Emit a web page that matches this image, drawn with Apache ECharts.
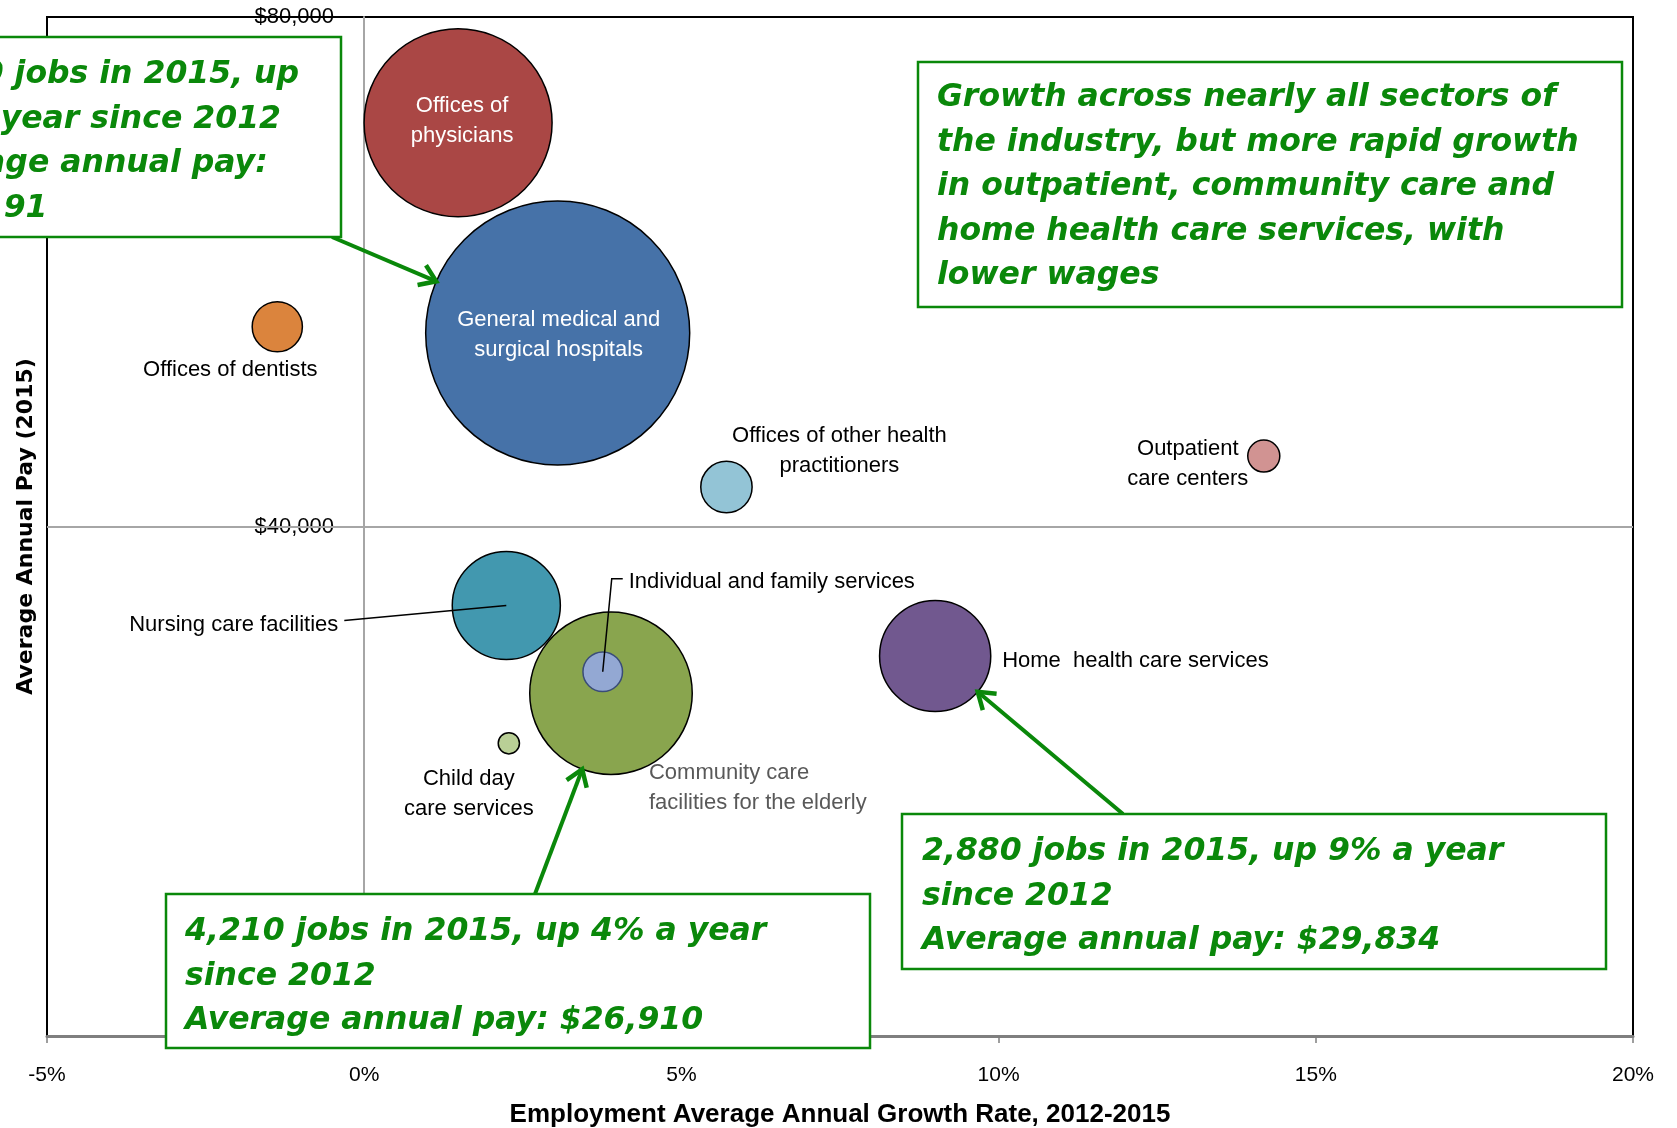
<!DOCTYPE html>
<html>
<head>
<meta charset="utf-8">
<script src="https://cdn.jsdelivr.net/npm/echarts@6/dist/echarts.min.js"></script>
<style>
  html, body { margin: 0; padding: 0; background: #fff; }
  #main { width: 1677px; height: 1128px; }
</style>
</head>
<body>
<div id="main"></div>
<script>
// sectors
const sectors = [
  'Offices of physicians',
  'General medical and surgical hospitals',
  'Offices of dentists',
  'Offices of other health practitioners',
  'Outpatient care centers',
  'Nursing care facilities',
  'Child day care services',
  'Community care facilities for the elderly',
  'Individual and family services',
  'Home health care services'
]
const labelTexts = [
  'Offices of\nphysicians',
  'General medical and\nsurgical hospitals',
  'Offices of dentists',
  'Offices of other health\npractitioners',
  'Outpatient\ncare centers',
  'Nursing care facilities',
  'Child day\ncare services',
  'Community care\nfacilities for the elderly',
  'Individual and family services',
  'Home  health care services'
]
const growthRate = [1.48, 3.05, -1.37, 5.71, 14.18, 2.24, 2.28, 3.89, 3.76, 9.0]
const annualPay = [71700, 55191, 55680, 43100, 45530, 33800, 22980, 26910, 28600, 29834]
const jobs2015 = [4870, 6840, 1300, 1330, 830, 2800, 550, 4210, 1025, 2880]
const xMin = -5, xMax = 20, xStep = 5
const yMin = 0, yMax = 80000, yStep = 40000

const colors = ['#AA4745', '#4672A8', '#DB843D', '#93C4D6', '#D19392', '#4298AF', '#B9CF96', '#89A54E', '#93A8D3', '#71588F']
const borders = ['#000', '#000', '#000', '#000', '#000', '#000', '#000', '#000', '#3A4C78', '#000']
// label placement relative to bubble centre (px)
const labelLayout = [
  { offset: [4, -2], align: 'center', color: '#fff' },
  { offset: [1, 2], align: 'center', color: '#fff' },
  { offset: [-47, 43], align: 'center' },
  { offset: [113, -36], align: 'center' },
  { offset: [-76, 8], align: 'center' },
  { offset: [-168, 19], align: 'right' },
  { offset: [-40, 51], align: 'center' },
  { offset: [38, 95], align: 'left', color: '#595959' },
  { offset: [26, -90], align: 'left' },
  { offset: [67, 5], align: 'left' }
]
const bubbleScale = 0.0386 // diameter px per job
const green = '#0A880A'
const labelFont = "'Liberation Sans', Arial, sans-serif"
const noteFont = "italic bold 31.5px 'DejaVu Sans', sans-serif"

const chart = echarts.init(document.getElementById('main'))

const data = sectors.map((name, i) => ({
  name: name,
  value: [growthRate[i], annualPay[i], jobs2015[i]],
  itemStyle: { color: colors[i], borderColor: borders[i], borderWidth: 1.5, opacity: 1 },
  label: {
    offset: labelLayout[i].offset,
    align: labelLayout[i].align,
    color: labelLayout[i].color || '#000'
  }
}))

chart.setOption({
  animation: false,
  grid: {
    left: 47, right: 44, top: 17, bottom: 92,
    outerBoundsMode: 'none',
    show: true, borderColor: '#000', borderWidth: 2
  },
  xAxis: {
    type: 'value',
    min: xMin,
    max: xMax,
    interval: xStep,
    axisLine: { onZero: false, lineStyle: { color: '#7F7F7F', width: 3 } },
    axisTick: { show: true, length: 7, lineStyle: { color: '#7F7F7F', width: 1.5 } },
    axisLabel: { formatter: (v) => v + '%', fontSize: 21, color: '#000', margin: 29, fontFamily: labelFont },
    splitLine: { show: false },
    name: 'Employment Average Annual Growth Rate, 2012-2015',
    nameLocation: 'middle',
    nameGap: 66,
    nameTextStyle: { fontSize: 26, fontWeight: 'bold', color: '#000', fontFamily: labelFont }
  },
  yAxis: {
    type: 'value',
    min: yMin,
    max: yMax,
    interval: yStep,
    axisLine: { show: true, onZero: true, lineStyle: { color: '#A6A6A6', width: 2 } },
    axisTick: { show: false },
    axisLabel: {
      formatter: (v) => '$' + v.toLocaleString('en-US'),
      showMinLabel: false,
      fontSize: 22,
      color: '#000',
      margin: -287,
      fontFamily: labelFont
    },
    splitLine: { show: false },
    name: 'Average Annual Pay (2015)',
    nameLocation: 'middle',
    nameRotate: 90,
    nameGap: 10,
    nameTextStyle: { fontSize: 22, fontWeight: 'bold', color: '#000', fontFamily: 'DejaVu Sans' }
  },
  series: [
    {
      type: 'scatter',
      data: data,
      symbolSize: (v) => v[2] * bubbleScale,
      emphasis: { disabled: true },
      label: {
        show: true,
        position: 'inside',
        formatter: (p) => labelTexts[p.dataIndex],
        fontSize: 22,
        lineHeight: 30,
        fontFamily: labelFont
      },
      markLine: {
        silent: true,
        symbol: 'none',
        label: { show: false },
        lineStyle: { color: '#A6A6A6', width: 2, type: 'solid' },
        data: [{ yAxis: yStep }]
      }
    }
  ]
})

// leader lines and call-out arrows, anchored to bubbles
const px = (i) => chart.convertToPixel({ seriesIndex: 0 }, [growthRate[i], annualPay[i]])
const rad = (i) => jobs2015[i] * bubbleScale / 2

function arrow (from, i) {
  const c = px(i)
  const dx = from[0] - c[0], dy = from[1] - c[1]
  const len = Math.hypot(dx, dy)
  const tip = [c[0] + dx / len * rad(i), c[1] + dy / len * rad(i)]
  const ang = Math.atan2(from[1] - tip[1], from[0] - tip[0])
  const h = 19, s = 0.6
  return [
    { type: 'line', z: 90, shape: { x1: from[0], y1: from[1], x2: tip[0], y2: tip[1] }, style: { stroke: green, lineWidth: 4 } },
    {
      type: 'polyline', z: 90,
      shape: { points: [[tip[0] + h * Math.cos(ang + s), tip[1] + h * Math.sin(ang + s)], tip, [tip[0] + h * Math.cos(ang - s), tip[1] + h * Math.sin(ang - s)]] },
      style: { stroke: green, lineWidth: 4.5, fill: null }
    }
  ]
}

function note (x, y, w, h, tx, ty, text) {
  return [
    { type: 'rect', z: 100, shape: { x: x, y: y, width: w, height: h }, style: { fill: '#fff', stroke: green, lineWidth: 2.5 } },
    { type: 'text', z: 101, x: tx, y: ty, style: { text: text, font: noteFont, fill: green, lineHeight: 44.5, verticalAlign: 'top' } }
  ]
}

const nurse = px(5)
const indiv = px(8)
chart.setOption({
  graphic: [
    { type: 'line', z: 5, shape: { x1: nurse[0] - 162, y1: nurse[1] + 15, x2: nurse[0], y2: nurse[1] }, style: { stroke: '#000', lineWidth: 1.5 } },
    { type: 'polyline', z: 5, shape: { points: [indiv, [indiv[0] + 9, indiv[1] - 93], [indiv[0] + 20, indiv[1] - 93]] }, style: { stroke: '#000', lineWidth: 1.5, fill: null } },
    ...arrow([332, 237], 1),
    ...arrow([535, 894], 7),
    ...arrow([1123, 814], 9),
    ...note(918, 62, 704, 245, 937, 76,
      'Growth across nearly all sectors of\nthe industry, but more rapid growth\nin outpatient, community care and\nhome health care services, with\nlower wages'),
    ...note(-100, 37, 441, 200, -96, 53,
      '6,840 jobs in 2015, up\n3% a year since 2012\nAverage annual pay:\n$55,191'),
    ...note(166, 894, 704, 154, 185, 910,
      '4,210 jobs in 2015, up 4% a year\nsince 2012\nAverage annual pay: $26,910'),
    ...note(902, 814, 704, 155, 922, 830,
      '2,880 jobs in 2015, up 9% a year\nsince 2012\nAverage annual pay: $29,834')
  ]
})
</script>
</body>
</html>
